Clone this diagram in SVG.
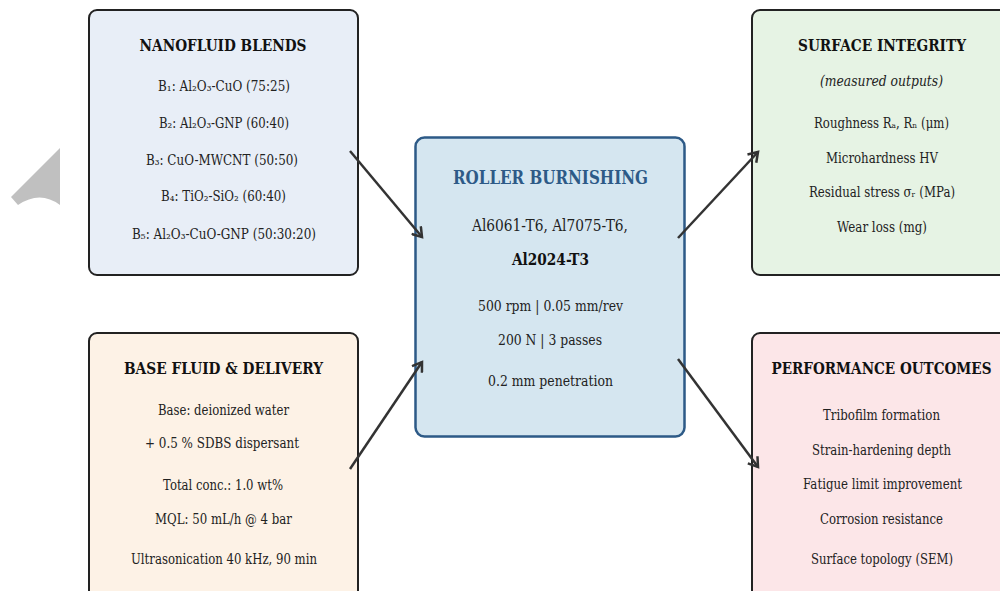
<svg xmlns="http://www.w3.org/2000/svg" width="1000" height="591" viewBox="0 0 1000 591">
<defs>
<style>
text{font-family:"DejaVu Serif",serif;text-anchor:middle;fill:#222}
.t{font-weight:bold;font-size:16.5px;fill:#111}
.i{font-size:14.5px}
.box{stroke:#222;stroke-width:2}
.c{stroke:#333;stroke-width:2.5;fill:none}
</style>
<marker id="ah" markerWidth="14" markerHeight="14" refX="10" refY="7" orient="auto" markerUnits="userSpaceOnUse">
<path d="M1,1 L10,7 L1,13" fill="none" stroke="#333" stroke-width="2.5"/>
</marker>
</defs>
<rect width="1000" height="591" fill="#fff"/>
<path d="M60,148 L11,197 L18,205 Q40,190 60,205 Z" fill="#c0c0c0"/>
<g id="nanofluid">
<rect class="box" x="89" y="10" width="269" height="265" rx="8" fill="#e8eef7"/>
<text class="t" x="223" y="51" textLength="167" lengthAdjust="spacingAndGlyphs">NANOFLUID BLENDS</text>
<text class="i" x="224" y="91" textLength="132" lengthAdjust="spacingAndGlyphs">B₁: Al₂O₃-CuO (75:25)</text>
<text class="i" x="224" y="128" textLength="130" lengthAdjust="spacingAndGlyphs">B₂: Al₂O₃-GNP (60:40)</text>
<text class="i" x="222" y="165" textLength="152" lengthAdjust="spacingAndGlyphs">B₃: CuO-MWCNT (50:50)</text>
<text class="i" x="223.5" y="201" textLength="125" lengthAdjust="spacingAndGlyphs">B₄: TiO₂-SiO₂ (60:40)</text>
<text class="i" x="224" y="239" textLength="184" lengthAdjust="spacingAndGlyphs">B₅: Al₂O₃-CuO-GNP (50:30:20)</text>
</g>
<g id="basefluid">
<rect class="box" x="89" y="333" width="269" height="280" rx="8" fill="#fdf2e6"/>
<text class="t" x="223.5" y="374" textLength="199" lengthAdjust="spacingAndGlyphs">BASE FLUID &amp; DELIVERY</text>
<text class="i" x="223.5" y="415" textLength="131" lengthAdjust="spacingAndGlyphs">Base: deionized water</text>
<text class="i" x="222" y="448" textLength="154" lengthAdjust="spacingAndGlyphs">+ 0.5 % SDBS dispersant</text>
<text class="i" x="223" y="490" textLength="120" lengthAdjust="spacingAndGlyphs">Total conc.: 1.0 wt%</text>
<text class="i" x="223.5" y="524" textLength="137" lengthAdjust="spacingAndGlyphs">MQL: 50 mL/h @ 4 bar</text>
<text class="i" x="224" y="564" textLength="186" lengthAdjust="spacingAndGlyphs">Ultrasonication 40 kHz, 90 min</text>
</g>
<g id="burnishing">
<rect x="415.5" y="137.5" width="269" height="299" rx="9" fill="#d5e6f0" stroke="#2d5a87" stroke-width="2.5"/>
<text class="t" x="550.5" y="184" style="font-size:19px;fill:#2d5a87" textLength="195" lengthAdjust="spacingAndGlyphs">ROLLER BURNISHING</text>
<text x="550" y="231" style="font-size:17px" textLength="156" lengthAdjust="spacingAndGlyphs">Al6061-T6, Al7075-T6,</text>
<text x="550.5" y="265" style="font-size:17px;font-weight:bold;fill:#111" textLength="77" lengthAdjust="spacingAndGlyphs">Al2024-T3</text>
<text class="i" x="550.5" y="311" textLength="145" lengthAdjust="spacingAndGlyphs">500 rpm | 0.05 mm/rev</text>
<text class="i" x="550" y="345" textLength="104" lengthAdjust="spacingAndGlyphs">200 N | 3 passes</text>
<text class="i" x="550.5" y="386" textLength="125" lengthAdjust="spacingAndGlyphs">0.2 mm penetration</text>
</g>
<g id="surface">
<rect class="box" x="752" y="10" width="268" height="265" rx="8" fill="#e6f3e4"/>
<text class="t" x="882" y="51" textLength="168" lengthAdjust="spacingAndGlyphs">SURFACE INTEGRITY</text>
<text class="i" x="881.5" y="86" style="font-style:italic" textLength="123" lengthAdjust="spacingAndGlyphs">(measured outputs)</text>
<text class="i" x="881.5" y="128" textLength="135" lengthAdjust="spacingAndGlyphs">Roughness Rₐ, Rₙ (μm)</text>
<text class="i" x="882" y="163" textLength="112" lengthAdjust="spacingAndGlyphs">Microhardness HV</text>
<text class="i" x="882" y="197" textLength="146" lengthAdjust="spacingAndGlyphs">Residual stress σᵣ (MPa)</text>
<text class="i" x="882" y="232" textLength="90" lengthAdjust="spacingAndGlyphs">Wear loss (mg)</text>
</g>
<g id="performance">
<rect class="box" x="752" y="333" width="268" height="280" rx="8" fill="#fce6e8"/>
<text class="t" x="881.5" y="374" textLength="220" lengthAdjust="spacingAndGlyphs">PERFORMANCE OUTCOMES</text>
<text class="i" x="881.5" y="420" textLength="117" lengthAdjust="spacingAndGlyphs">Tribofilm formation</text>
<text class="i" x="881.5" y="455" textLength="139" lengthAdjust="spacingAndGlyphs">Strain-hardening depth</text>
<text class="i" x="882.5" y="489" textLength="159" lengthAdjust="spacingAndGlyphs">Fatigue limit improvement</text>
<text class="i" x="881.5" y="524" textLength="123" lengthAdjust="spacingAndGlyphs">Corrosion resistance</text>
<text class="i" x="882" y="564" textLength="142" lengthAdjust="spacingAndGlyphs">Surface topology (SEM)</text>
</g>
<g id="connectors">
<line class="c" x1="350" y1="151" x2="422" y2="237" marker-end="url(#ah)"/>
<line class="c" x1="350" y1="469" x2="422" y2="362" marker-end="url(#ah)"/>
<line class="c" x1="678" y1="238" x2="758" y2="152" marker-end="url(#ah)"/>
<line class="c" x1="678" y1="359" x2="758" y2="467" marker-end="url(#ah)"/>
</g>
</svg>
